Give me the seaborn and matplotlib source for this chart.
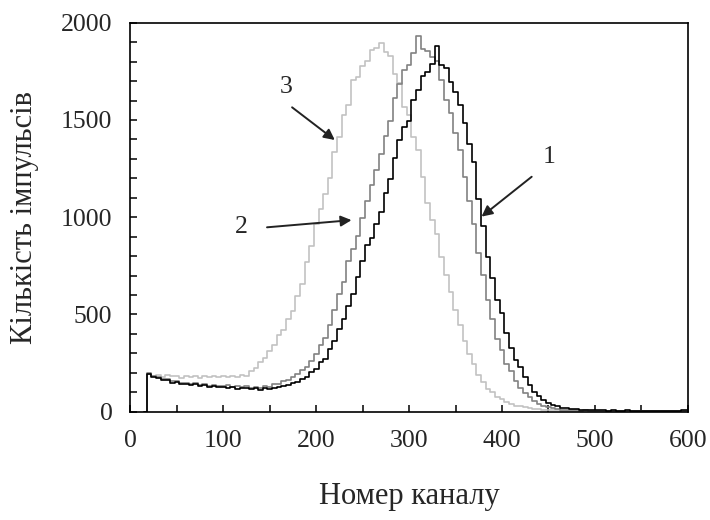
import numpy as np
import pandas as pd
import matplotlib
matplotlib.use("Agg")
import matplotlib.pyplot as plt
from matplotlib.ticker import MultipleLocator
import seaborn as sns

# Channel numbers (every 5th channel of the analyser)
channels = list(range(15, 601, 5))

# Spectrum 3 (light grey)
counts_3 = [0, 195, 186, 190, 178, 188, 181, 184, 175, 186, 179, 183, 172, 181, 176, 184, 178,
            182, 177, 186, 180, 190, 184, 208, 226, 258, 276, 310, 342, 395, 420, 478, 520, 596, 655, 770, 850,
            965, 1040, 1120, 1200, 1335, 1410, 1525, 1575, 1705, 1720, 1775, 1805, 1860, 1870, 1895, 1850, 1830, 1735, 1690, 1565,
            1525, 1410, 1345, 1205, 1075, 985, 915, 795, 705, 615, 525, 445, 365, 295, 245, 190, 155, 118, 102, 78,
            64, 48, 42, 31, 29, 22, 21, 15, 14, 10, 9, 7, 8, 5, 6, 4, 5, 3, 4, 3,
            4, 3, 2, 4, 3, 2, 3, 2, 3, 2, 2, 3, 2, 2, 3, 2, 2, 3, 2, 2, 2]

# Spectrum 2 (medium grey)
counts_2 = [0, 200, 184, 179, 168, 166, 157, 156, 148, 150, 141, 146, 137, 141, 133, 139, 131,
            130, 135, 127, 133, 125, 131, 124, 129, 123, 131, 127, 141, 144, 157, 163, 178, 193, 212, 232, 262,
            298, 345, 378, 445, 525, 605, 665, 775, 835, 905, 995, 1085, 1165, 1245, 1325, 1415, 1495, 1615, 1685, 1755,
            1785, 1845, 1930, 1865, 1855, 1825, 1805, 1705, 1605, 1535, 1435, 1345, 1205, 1085, 965, 815, 705, 575, 475, 375,
            315, 245, 208, 158, 122, 98, 76, 54, 39, 27, 22, 17, 15, 11, 10, 8, 9, 6, 7, 5,
            6, 5, 4, 5, 3, 4, 3, 4, 3, 3, 2, 3, 3, 2, 3, 2, 3, 2, 2, 3, 2]

# Spectrum 1 (black)
counts_1 = [0, 196, 178, 172, 163, 161, 150, 152, 143, 144, 137, 140, 133, 135, 129, 133, 126,
            128, 122, 127, 119, 120, 123, 117, 121, 113, 122, 116, 124, 126, 134, 137, 147, 153, 168, 178, 203,
            222, 254, 272, 323, 365, 425, 478, 545, 605, 695, 775, 855, 895, 965, 1025, 1125, 1195, 1305, 1395, 1465,
            1495, 1605, 1655, 1725, 1745, 1790, 1880, 1785, 1765, 1695, 1645, 1575, 1485, 1375, 1285, 1095, 955, 795, 685, 575,
            505, 405, 325, 265, 228, 176, 138, 102, 82, 58, 46, 33, 28, 21, 19, 14, 13, 10, 11, 8,
            9, 7, 8, 6, 7, 5, 6, 8, 5, 6, 4, 5, 6, 4, 5, 4, 6, 4, 5, 7, 9]

series_names = ["3", "2", "1"]
series_colors = {"3": "#c2c2c2", "2": "#828282", "1": "#000000"}

x_ticks = [0, 100, 200, 300, 400, 500, 600]
y_ticks = [0, 500, 1000, 1500, 2000]

frames = []
for name, vals in zip(series_names, [counts_3, counts_2, counts_1]):
    frames.append(pd.DataFrame({"channel": channels, "counts": vals, "spectrum": name}))
df = pd.concat(frames, ignore_index=True)

sns.set_style("ticks")
plt.rcParams["font.family"] = ["Liberation Serif", "DejaVu Serif"]

fig = plt.figure(figsize=(7.1, 5.2), dpi=100)
ax = fig.add_axes([0.1838, 0.2083, 0.7848, 0.748])

sns.lineplot(data=df, x="channel", y="counts", hue="spectrum",
             hue_order=series_names, palette=series_colors,
             estimator=None, sort=False, legend=False,
             drawstyle="steps-mid", linewidth=1.2, ax=ax)

ax.set_xlim(0, 600)
ax.set_ylim(0, 2000)
ax.set_xticks(x_ticks)
ax.set_yticks(y_ticks)
ax.xaxis.set_minor_locator(MultipleLocator(50))
ax.yaxis.set_minor_locator(MultipleLocator(100))
ax.tick_params(axis="both", which="both", direction="in", color="black",
               width=1.1, labelsize=18.5, pad=13)
ax.tick_params(axis="both", which="both", length=5)
ax.tick_params(top=False, right=False, which="both")

for side in ["top", "right", "bottom", "left"]:
    ax.spines[side].set_visible(True)
    ax.spines[side].set_color("black")
    ax.spines[side].set_linewidth(1.2)

ax.set_xlabel("Номер каналу", fontsize=22, labelpad=22)
ax.set_ylabel("Кількість імпульсів", fontsize=22, labelpad=16)

# Curve labels with pointer arrows: (text pos, arrow tail, arrow head)
pointers = [
    ("3", (168, 1671), (174, 1565), (220, 1397)),
    ("2", (119, 951), (147, 948), (238, 985)),
    ("1", (451, 1309), (432, 1208), (378, 1003)),
]
for label, txt, tail, head in pointers:
    ax.text(txt[0], txt[1], label, fontsize=18.5, ha="center", va="center")
    ax.annotate("", xy=head, xytext=tail,
                arrowprops=dict(arrowstyle="-|>", color="#222222", lw=1.4,
                                mutation_scale=16, shrinkA=0, shrinkB=0))

fig.savefig("out.png", dpi=100)
